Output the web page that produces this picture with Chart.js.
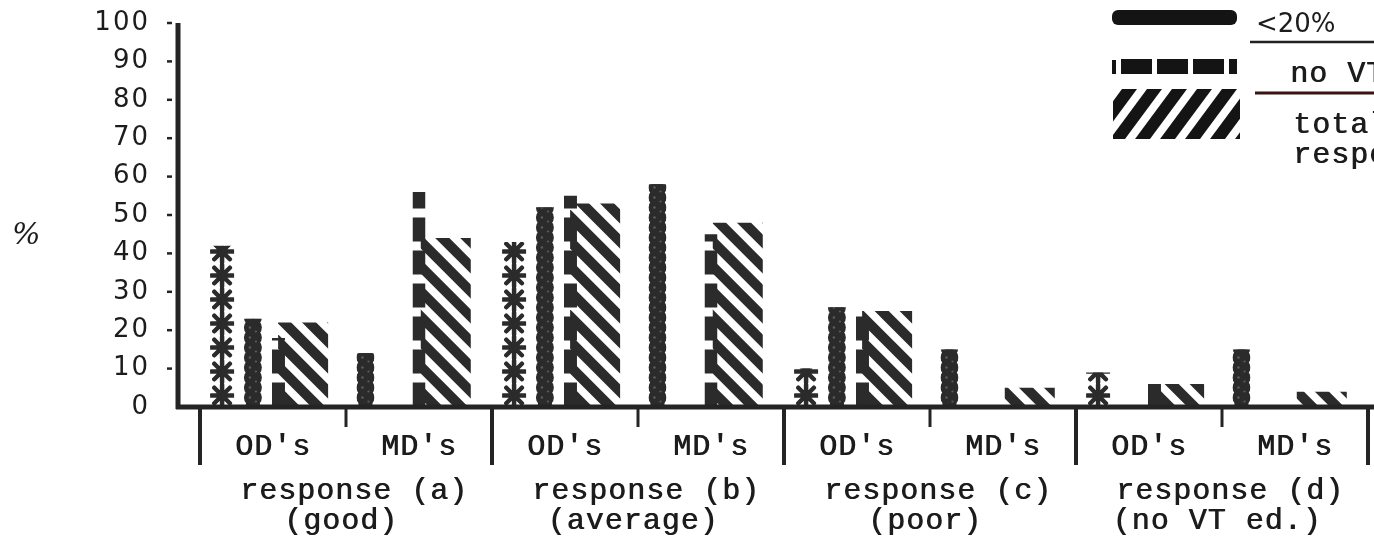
<!DOCTYPE html>
<html>
<head>
<meta charset="utf-8">
<script src="https://cdn.jsdelivr.net/npm/chart.js@4.4.1/dist/chart.umd.min.js"></script>
<style>
  html, body { margin: 0; padding: 0; background: #fff; }
</style>
</head>
<body>
<canvas id="chart" width="1374" height="542"></canvas>
<script>
const categories = ["OD's", "MD's", "OD's", "MD's", "OD's", "MD's", "OD's", "MD's"];
const groupLabels = ['response (a)', 'response (b)', 'response (c)', 'response (d)'];
const groupNotes = ['(good)', '(average)', '(poor)', '(no VT ed.)'];
const yTicks = [0, 10, 20, 30, 40, 50, 60, 70, 80, 90, 100];

// values, in %
const asteriskValues = [42, null, 43, null, 10, null, 9, null];
const under20Values = [23, 14, 52, 58, 26, 15, 0, 15];
const noVtValues = [18, 56, 55, 45, 24, 0, 6, 0];
const totalValues = [22, 44, 53, 48, 25, 5, 6, 4];

const legendLabels = ['<20%', 'no VT', 'total response'];

const ink = '#2b2b2b';
const monoFont = '30px "Liberation Mono", monospace';

// typewriter look: regular mono struck twice, slightly offset
function typeText(ctx, text, x, y) {
    ctx.fillText(text, x, y);
    ctx.fillText(text, x + 0.8, y + 0.3);
}

function drawAsterisks(ctx, left, top, w, base) {
    const cx = left + w / 2;
    const r = w / 2 - 1;
    ctx.strokeStyle = ink;
    ctx.fillStyle = ink;
    ctx.lineWidth = 4.5;
    ctx.lineCap = 'round';
    for (let cy = base - 11; cy > top - 14; cy -= 24) {
        ctx.beginPath();
        for (let a = 0; a < 4; a++) {
            const ang = a * Math.PI / 4;
            ctx.moveTo(cx - Math.cos(ang) * r, cy - Math.sin(ang) * r);
            ctx.lineTo(cx + Math.cos(ang) * r, cy + Math.sin(ang) * r);
        }
        ctx.stroke();
        ctx.beginPath();
        ctx.arc(cx, cy, 5, 0, Math.PI * 2);
        ctx.fill();
    }
}

function drawBeads(ctx, left, top, w, base) {
    const cx = left + w / 2;
    ctx.fillStyle = ink;
    ctx.fillRect(left + 2, top, w - 4, base - top);
    for (let cy = base - w / 2; cy > top - w; cy -= 10) {
        ctx.beginPath();
        ctx.arc(cx, cy, w / 2, 0, Math.PI * 2);
        ctx.fill();
    }
    ctx.fillStyle = '#5c5c5c';
    for (let cy = base - w / 2; cy > top; cy -= 10) {
        ctx.beginPath();
        ctx.arc(cx - 3, cy, 1.3, 0, Math.PI * 2);
        ctx.arc(cx + 3, cy + 4, 1.1, 0, Math.PI * 2);
        ctx.fill();
    }
}

function drawDashes(ctx, left, top, w, base) {
    ctx.fillStyle = ink;
    for (let b = base; b > top; b -= 33) {
        ctx.fillRect(left, b - 24, w, 24);
    }
}

function drawHatch(ctx, left, top, w, base) {
    ctx.strokeStyle = ink;
    ctx.lineWidth = 10;
    for (let c = base + 10; c > top - w - 30; c -= 25) {
        ctx.beginPath();
        ctx.moveTo(left - 6, c - 6);
        ctx.lineTo(left + w + 6, c + w + 6);
        ctx.stroke();
    }
}

const drawers = { asterisk: drawAsterisks, beads: drawBeads, dashes: drawDashes, hatch: drawHatch };

const patternBars = {
    id: 'patternBars',
    afterDatasetsDraw(chart) {
        const ctx = chart.ctx;
        chart.data.datasets.forEach((ds, i) => {
            const meta = chart.getDatasetMeta(i);
            meta.data.forEach((bar, j) => {
                const v = ds.data[j];
                if (v === null || v === 0) return;
                const { x, y, base, width } = bar.getProps(['x', 'y', 'base', 'width'], true);
                const left = x - width / 2;
                ctx.save();
                ctx.beginPath();
                ctx.rect(left, y, width, base - y);
                ctx.clip();
                drawers[ds.pattern](ctx, left, y, width, base);
                ctx.restore();
            });
        });
    }
};

const frame = {
    id: 'frame',
    beforeDraw(chart) {
        chart.ctx.letterSpacing = '2px';
    },
    afterDatasetsDraw(chart) {
        const { ctx, chartArea, scales: { x, y } } = chart;
        const zero = y.getPixelForValue(0);
        const axisX = chartArea.left - 22;
        ctx.save();
        ctx.letterSpacing = '0px';
        ctx.strokeStyle = '#242424';
        ctx.lineWidth = 5;
        ctx.beginPath();
        ctx.moveTo(axisX, y.getPixelForValue(100));
        ctx.lineTo(axisX, zero + 2);
        ctx.moveTo(axisX - 2, zero);
        ctx.lineTo(chart.width, zero);
        ctx.stroke();

        ctx.lineWidth = 2.5;
        yTicks.forEach(v => {
            if (v === 0) return;
            const py = y.getPixelForValue(v);
            ctx.beginPath();
            ctx.moveTo(axisX - 11, py);
            ctx.lineTo(axisX - 6, py);
            ctx.stroke();
        });

        for (let i = 0; i <= categories.length; i++) {
            const bx = x.getPixelForValue(i - 0.5);
            const major = i % 2 === 0;
            ctx.lineWidth = major ? 4 : 3;
            ctx.beginPath();
            ctx.moveTo(bx, zero);
            ctx.lineTo(bx, zero + (major ? 58 : 20));
            ctx.stroke();
        }

        ctx.fillStyle = '#1c1c1c';
        ctx.font = monoFont;
        ctx.letterSpacing = '1px';
        ctx.textAlign = 'center';
        ctx.textBaseline = 'alphabetic';
        categories.forEach((c, i) => {
            typeText(ctx, c, x.getPixelForValue(i), zero + 48);
        });
        groupLabels.forEach((g, k) => {
            const gx = (x.getPixelForValue(2 * k) + x.getPixelForValue(2 * k + 1)) / 2;
            typeText(ctx, g, gx + 8, zero + 92);
            typeText(ctx, groupNotes[k], gx - 5, zero + 122);
        });

        ctx.letterSpacing = '0px';
        ctx.font = 'italic 30px "DejaVu Serif", serif';
        ctx.textAlign = 'left';
        ctx.fillText('%', 12, 244);
        ctx.restore();
    }
};

const handLegend = {
    id: 'handLegend',
    afterDraw(chart) {
        const ctx = chart.ctx;
        ctx.save();
        ctx.letterSpacing = '0px';
        ctx.fillStyle = '#141414';

        // <20% swatch: beaded band
        ctx.beginPath();
        ctx.roundRect(1112, 10, 125, 15, 6);
        ctx.fill();

        // no VT swatch: dashes
        ctx.fillRect(1112, 60, 4, 14);
        for (let sx = 1121; sx < 1237; sx += 36) {
            ctx.fillRect(sx, 59, Math.min(31, 1237 - sx), 15);
        }

        // total response swatch: slanted stripes
        ctx.save();
        ctx.beginPath();
        ctx.rect(1113, 89, 127, 50);
        ctx.clip();
        for (let sx = 1060; sx < 1250; sx += 25) {
            ctx.beginPath();
            ctx.moveTo(sx, 139);
            ctx.lineTo(sx + 15, 139);
            ctx.lineTo(sx + 52, 89);
            ctx.lineTo(sx + 37, 89);
            ctx.closePath();
            ctx.fill();
        }
        ctx.restore();

        ctx.fillStyle = '#1c1c1c';
        ctx.textAlign = 'left';
        ctx.font = '26px "DejaVu Sans", sans-serif';
        ctx.fillText(legendLabels[0], 1256, 32);

        ctx.font = monoFont;
        ctx.letterSpacing = '1px';
        typeText(ctx, legendLabels[1], 1290, 82);
        const parts = legendLabels[2].split(' ');
        typeText(ctx, parts[0], 1293, 133);
        typeText(ctx, parts[1], 1293, 163);

        ctx.strokeStyle = '#222';
        ctx.lineWidth = 2.5;
        ctx.beginPath();
        ctx.moveTo(1250, 42);
        ctx.lineTo(1374, 42);
        ctx.stroke();
        ctx.strokeStyle = '#3d1212';
        ctx.lineWidth = 3;
        ctx.beginPath();
        ctx.moveTo(1255, 93);
        ctx.lineTo(1374, 93);
        ctx.stroke();
        ctx.restore();
    }
};

const clear = 'rgba(0,0,0,0)';

new Chart(document.getElementById('chart').getContext('2d'), {
    type: 'bar',
    data: {
        labels: categories,
        datasets: [
            { label: '', data: asteriskValues, pattern: 'asterisk', backgroundColor: clear,
              categoryPercentage: 0.93, barPercentage: 4, maxBarThickness: 24 },
            { label: legendLabels[0], data: under20Values, pattern: 'beads', backgroundColor: clear,
              categoryPercentage: 1.1, barPercentage: 4, maxBarThickness: 18 },
            { label: legendLabels[1], data: noVtValues, pattern: 'dashes', backgroundColor: clear,
              categoryPercentage: 0.3, barPercentage: 4, maxBarThickness: 13 },
            { label: legendLabels[2], data: totalValues, pattern: 'hatch', backgroundColor: clear,
              categoryPercentage: 0.55, barPercentage: 4, maxBarThickness: 50 }
        ]
    },
    options: {
        responsive: false,
        animation: false,
        skipNull: true,
        layout: { padding: { top: 23, right: 6, left: 0, bottom: 0 } },
        scales: {
            x: {
                grid: { display: false },
                border: { display: false },
                ticks: { display: false },
                afterFit: (scale) => { scale.height = 135; }
            },
            y: {
                min: 0,
                max: 100,
                grid: { display: true, drawOnChartArea: false, drawTicks: true, tickLength: 50, tickColor: clear },
                border: { display: false },
                afterBuildTicks: (scale) => { scale.ticks = yTicks.map(v => ({ value: v })); },
                ticks: {
                    padding: 0,
                    color: '#1c1c1c',
                    font: { family: '"DejaVu Sans", sans-serif', size: 26 }
                },
                afterFit: (scale) => { scale.width = 200; }
            }
        },
        plugins: {
            legend: { display: false },
            tooltip: { enabled: false }
        }
    },
    plugins: [patternBars, frame, handLegend]
});
</script>
</body>
</html>
